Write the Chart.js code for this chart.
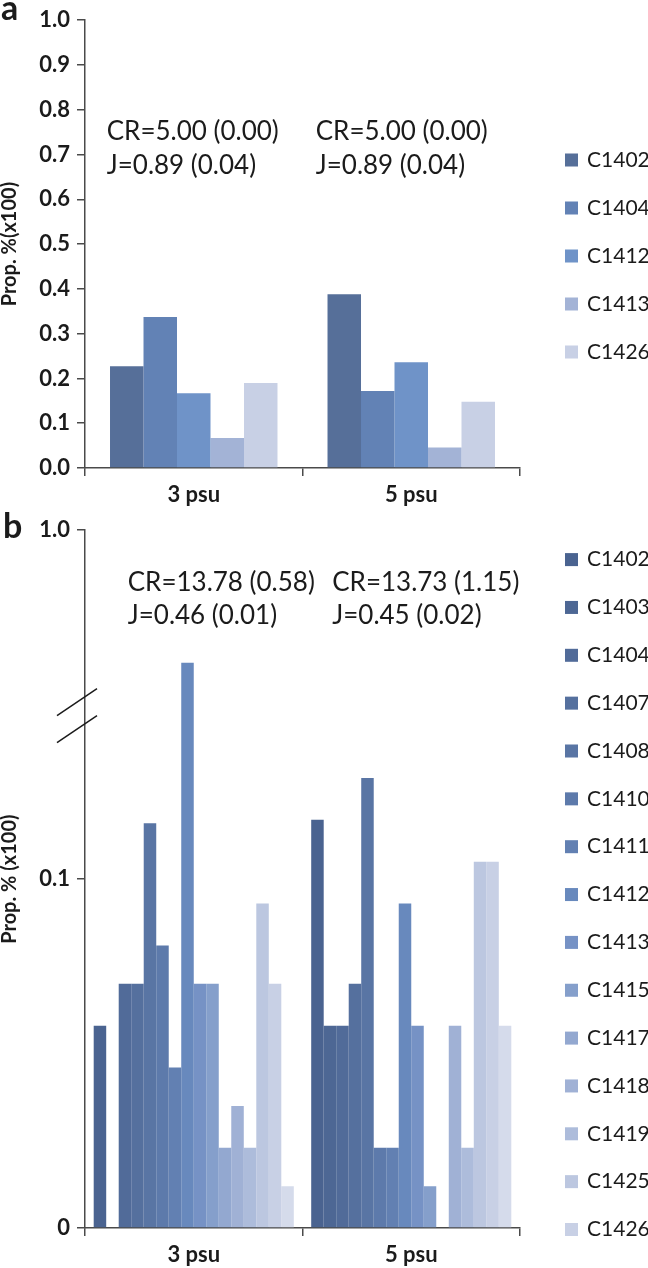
<!DOCTYPE html>
<html>
<head>
<meta charset="utf-8">
<script src="https://cdn.jsdelivr.net/npm/chart.js@4.4.1/dist/chart.umd.min.js"></script>
<style>
  html, body { margin: 0; padding: 0; background: #fff; }
  #page { position: relative; width: 648px; height: 1268px; overflow: hidden; }
  .panel { position: absolute; left: 0; width: 648px; }
  #panelA { top: 0; height: 510px; }
  #panelB { top: 510px; height: 758px; }
</style>
</head>
<body>
<div id="page">
  <div class="panel" id="panelA"><canvas id="chartA"></canvas></div>
  <div class="panel" id="panelB"><canvas id="chartB"></canvas></div>
</div>
<script>
// Categories shared by both panels
const categories = ["3 psu", "5 psu"];

// Panel a: 5 clones
const seriesNamesA = ["C1402", "C1404", "C1412", "C1413", "C1426"];
const valuesA3psu = [0.227, 0.337, 0.167, 0.067, 0.190];
const valuesA5psu = [0.388, 0.172, 0.236, 0.046, 0.148];
const colorsA = ["#566f99", "#6282b5", "#6f93c8", "#a3b3d6", "#c8d0e5"];
const yTicksA = [0, 0.1, 0.2, 0.3, 0.4, 0.5, 0.6, 0.7, 0.8, 0.9, 1.0];
const yTickLabelsA = ["0.0", "0.1", "0.2", "0.3", "0.4", "0.5", "0.6", "0.7", "0.8", "0.9", "1.0"];
const statsA = [["CR=5.00 (0.00)", "J=0.89 (0.04)"], ["CR=5.00 (0.00)", "J=0.89 (0.04)"]];

// Panel b: 16 bars per group, the legend of the original stops at C1426 (last entry cut off)
const seriesNamesB = ["C1402", "C1403", "C1404", "C1407", "C1408", "C1410", "C1411", "C1412",
  "C1413", "C1415", "C1417", "C1418", "C1419", "C1425", "C1426", null];
// values read on the drawn (broken) axis: 0 .. 0.1 linear, top tick "1.0" sits at 0.2
const valuesB3psu = [0.058, 0, 0.070, 0.070, 0.116, 0.081, 0.046, 0.162,
  0.070, 0.070, 0.023, 0.035, 0.023, 0.093, 0.070, 0.012];
const valuesB5psu = [0.117, 0.058, 0.058, 0.070, 0.129, 0.023, 0.023, 0.093,
  0.058, 0.012, 0, 0.058, 0.023, 0.105, 0.105, 0.058];
const colorsB = ["#4a6390", "#4d6794", "#516b99", "#55709e", "#5975a4", "#5d7aab", "#6280b2", "#6889bd",
  "#7692c5", "#859fcb", "#93a8d0", "#a0b1d5", "#adbcdb", "#bcc7e0", "#c8d0e5", "#d5dbeb"];
const yTicksB = [0, 0.1, 0.2];
const yTickLabelsB = ["0", "0.1", "1.0"];
const statsB = [["CR=13.78 (0.58)", "J=0.46 (0.01)"], ["CR=13.73 (1.15)", "J=0.45 (0.02)"]];

const FONT = "Lato, 'Open Sans', sans-serif";
const INK = "#1b1b1b";
const AXIS = "#4a4a4a";

// Draws panel letter, CR/J notes, the legend column and the axis break
function decor(cfg) {
  return {
    id: "decor",
    afterDraw(chart) {
      const { ctx, chartArea, scales: { x, y } } = chart;
      ctx.save();
      ctx.fillStyle = INK;
      ctx.textAlign = "left";
      ctx.textBaseline = "alphabetic";
      ctx.font = `bold ${cfg.letterSize}px ${FONT}`;
      ctx.fillText(cfg.letter, cfg.letterX, cfg.letterBaseline);

      ctx.textBaseline = "middle";
      ctx.font = `${cfg.statSize}px ${FONT}`;
      cfg.stats.forEach((lines, i) => {
        const left = x.getPixelForValue(i) + cfg.statDx[i];
        lines.forEach((line, j) => ctx.fillText(line, left, chartArea.top + cfg.statTop + j * cfg.statStep));
      });

      ctx.font = `${cfg.legendSize}px ${FONT}`;
      chart.data.datasets.forEach((ds, i) => {
        if (!ds.label) return;
        const cy = cfg.legendTop + i * cfg.legendStep;
        ctx.fillStyle = ds.backgroundColor;
        ctx.fillRect(cfg.legendX, cy - 6.5, 13, 13);
        ctx.fillStyle = INK;
        ctx.fillText(ds.label, cfg.legendX + 22, cy);
      });

      if (cfg.breakAt != null) {
        const ax = chartArea.left;
        const y0 = y.getPixelForValue(cfg.breakAt);
        ctx.strokeStyle = INK;
        ctx.lineWidth = 1.5;
        [0, cfg.breakGap].forEach((off) => {
          ctx.beginPath();
          ctx.moveTo(ax - 28, y0 + off + 19);
          ctx.lineTo(ax + 12, y0 + off - 8);
          ctx.stroke();
        });
      }
      ctx.restore();
    }
  };
}

function makePanel(canvasId, p) {
  const datasets = p.names.map((name, i) => ({
    label: name,
    data: [p.values[0][i], p.values[1][i]],
    backgroundColor: p.colors[i],
    borderWidth: 0,
    categoryPercentage: p.groupWidth,
    barPercentage: 1
  }));
  return new Chart(document.getElementById(canvasId), {
    type: "bar",
    data: { labels: categories, datasets },
    plugins: [decor(p.decor)],
    options: {
      responsive: true,
      maintainAspectRatio: false,
      animation: false,
      layout: { padding: p.padding },
      plugins: { legend: { display: false }, tooltip: { enabled: false } },
      scales: {
        x: {
          grid: { display: true, offset: true, drawOnChartArea: false, drawTicks: true, tickLength: 8, color: AXIS, lineWidth: 1.5 },
          border: { display: true, color: AXIS, width: 1.5 },
          ticks: { color: INK, padding: 6, font: { family: FONT, size: 22, weight: "bold" } },
          afterFit: (scale) => { scale.height = 40; }
        },
        y: {
          min: 0,
          max: p.yTicks[p.yTicks.length - 1],
          afterBuildTicks: (scale) => { scale.ticks = p.yTicks.map((v) => ({ value: v })); },
          grid: { display: true, drawOnChartArea: false, drawTicks: true, tickLength: 8, color: AXIS, lineWidth: 1.5 },
          border: { display: true, color: AXIS, width: 1.5 },
          ticks: {
            color: INK, padding: 7, autoSkip: false,
            font: { family: FONT, size: 22, weight: "bold" },
            callback: (value, index) => p.yLabels[index]
          },
          title: {
            display: true, text: p.yTitle, color: INK, padding: 0,
            font: { family: FONT, size: 20, weight: "bold", lineHeight: 1 }
          },
          afterFit: (scale) => { scale.width = 85; }
        }
      }
    }
  });
}

makePanel("chartA", {
  names: seriesNamesA,
  values: [valuesA3psu, valuesA5psu],
  colors: colorsA,
  groupWidth: 0.77,
  yTicks: yTicksA,
  yLabels: yTickLabelsA,
  yTitle: "Prop. %(x100)",
  padding: { left: 0, right: 128, top: 14, bottom: 2 },
  decor: {
    letter: "a", letterSize: 34, letterX: 1, letterBaseline: 20,
    stats: statsA, statSize: 26, statDx: [-87, -95.5], statTop: 111, statStep: 34,
    legendSize: 21, legendX: 565, legendTop: 160, legendStep: 48
  }
});

makePanel("chartB", {
  names: seriesNamesB,
  values: [valuesB3psu, valuesB5psu],
  colors: colorsB,
  groupWidth: 0.92,
  yTicks: yTicksB,
  yLabels: yTickLabelsB,
  yTitle: "Prop. % (x100)",
  padding: { left: 0, right: 128, top: 18, bottom: 0 },
  decor: {
    letter: "b", letterSize: 34, letterX: 3, letterBaseline: 28,
    stats: statsB, statSize: 26, statDx: [-66, -79], statTop: 52, statStep: 33,
    legendSize: 21, legendX: 565, legendTop: 49.6, legendStep: 47.85,
    breakAt: 0.1523, breakGap: 27
  }
});
</script>
</body>
</html>
